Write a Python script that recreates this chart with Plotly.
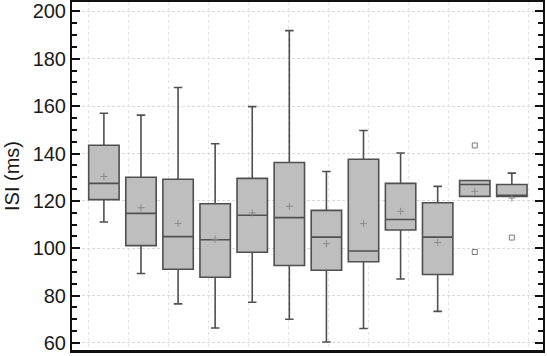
import plotly.graph_objects as go

positions = list(range(12))
q1 = [120.5, 101.1, 91.1, 87.7, 98.3, 92.7, 90.7, 94.3, 107.7, 88.9, 121.9, 121.9]
median = [127.4, 114.7, 104.9, 103.6, 113.9, 112.9, 104.7, 98.8, 112.1, 104.7, 126.9, 121.9]
q3 = [143.5, 130.0, 129.1, 118.8, 129.5, 136.2, 116.0, 137.6, 127.4, 119.2, 128.6, 126.9]
lower = [111.1, 89.3, 76.5, 66.3, 77.2, 70.0, 60.4, 66.1, 87.0, 73.3, 121.9, 121.9]
upper = [157.0, 156.2, 167.9, 144.1, 159.8, 191.9, 132.4, 149.7, 140.2, 126.1, 128.6, 131.7]
means = [130.3, 117.1, 110.4, 103.8, 114.9, 117.7, 101.9, 110.4, 115.6, 102.4, 124.0, 121.2]
outlier_x = [10, 10, 11]
outlier_y = [143.4, 98.4, 104.5]
y_ticks = [60, 80, 100, 120, 140, 160, 180, 200]

X_RANGE = [-0.86, 11.84]
PLOT_W = 547 - 72 - 4
ppu = PLOT_W / (X_RANGE[1] - X_RANGE[0])
# vertical dotted grid (independent of box positions): every 40 px starting 16 px in
x_grid = [X_RANGE[0] + (16 + 40 * i) / ppu for i in range(12)]

fig = go.Figure()
fig.add_trace(go.Box(
    x=positions, q1=q1, median=median, q3=q3,
    lowerfence=lower, upperfence=upper,
    width=0.82, whiskerwidth=0.28,
    fillcolor="#bebebe", line=dict(color="#505050", width=1.6),
    boxpoints=False, showlegend=False, hoverinfo="skip",
))
fig.add_trace(go.Scatter(
    x=positions, y=means, mode="markers",
    marker=dict(symbol="cross-thin", size=5, line=dict(color="#8a8a8a", width=1)),
    showlegend=False, hoverinfo="skip",
))
fig.add_trace(go.Scatter(
    x=outlier_x, y=outlier_y, mode="markers",
    marker=dict(symbol="square-open", size=5, color="#7a7a7a", line=dict(width=1)),
    showlegend=False, hoverinfo="skip",
))

fig.update_layout(
    width=547, height=356,
    margin=dict(l=72, r=4, t=2, b=6),
    paper_bgcolor="white", plot_bgcolor="white",
    font=dict(family="Liberation Sans, Arial, sans-serif", color="#1a1a1a"),
    xaxis=dict(
        range=X_RANGE, tickvals=x_grid, showticklabels=False,
        ticks="", showgrid=True, gridcolor="#e2e2e2", griddash="dot", gridwidth=1,
        showline=True, linecolor="#111111", linewidth=3, mirror=True,
        zeroline=False, automargin=False,
    ),
    yaxis=dict(
        range=[57, 204], tickvals=y_ticks,
        ticks="inside", ticklen=8, tickwidth=1.5, tickcolor="#111111",
        minor=dict(dtick=5, ticks="inside", ticklen=5, tickwidth=1.5, tickcolor="#111111", showgrid=False),
        showgrid=True, gridcolor="#d9d9d9", griddash="3px,2px", gridwidth=1,
        showline=True, linecolor="#111111", linewidth=2, mirror="allticks",
        tickfont=dict(size=20), zeroline=False, automargin=False,
        title=dict(text="ISI (ms)", font=dict(size=20), standoff=8),
    ),
)

fig.write_html("out.html", config={"displayModeBar": False},
               post_script="document.body.style.margin='0';")
